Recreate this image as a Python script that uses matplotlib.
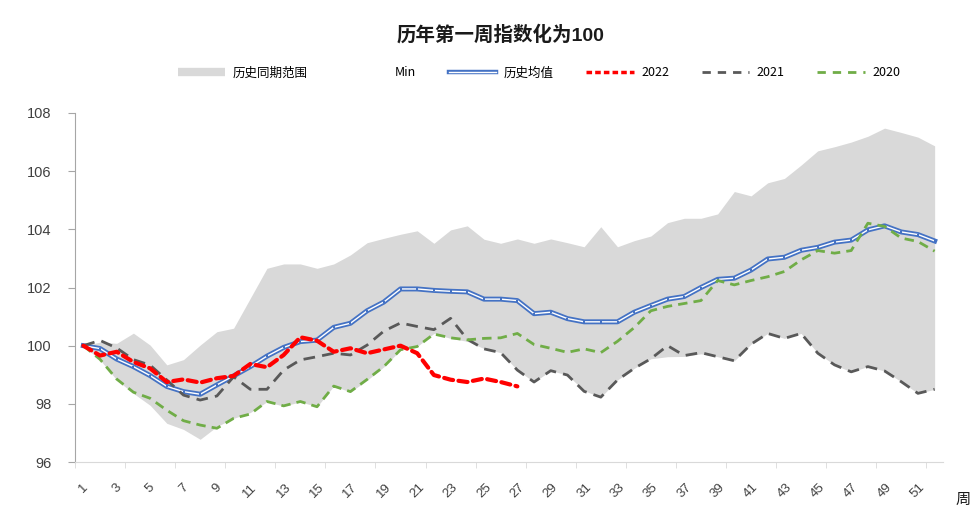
import matplotlib
matplotlib.use("Agg")
import matplotlib.pyplot as plt
import matplotlib.patheffects as pe
from matplotlib.lines import Line2D
import numpy as np

plt.rcParams['font.family'] = ['Liberation Sans', 'Noto Sans CJK SC', 'DejaVu Sans']

weeks = list(range(1, 53))

hist_mean = [100.0, 99.9, 99.54, 99.28, 98.97, 98.6, 98.42, 98.33, 98.65, 98.96,
             99.28, 99.64, 99.94, 100.14, 100.19, 100.63, 100.77, 101.2, 101.5, 101.95,
             101.95, 101.9, 101.87, 101.85, 101.6, 101.6, 101.55, 101.1, 101.15, 100.93,
             100.82, 100.82, 100.82, 101.15, 101.38, 101.6, 101.69, 102.0, 102.28, 102.32,
             102.6, 102.98, 103.04, 103.28, 103.38, 103.56, 103.63, 103.98, 104.12, 103.91,
             103.82, 103.6]

hist_max = [100.0, 100.12, 100.08, 100.43, 100.02, 99.34, 99.52, 100.02, 100.48, 100.6,
            101.63, 102.66, 102.81, 102.81, 102.66, 102.81, 103.12, 103.54, 103.69, 103.83,
            103.95, 103.52, 103.98, 104.12, 103.66, 103.52, 103.67, 103.52, 103.67, 103.54,
            103.4, 104.09, 103.4, 103.61, 103.77, 104.23, 104.38, 104.38, 104.53, 105.3,
            105.15, 105.6, 105.75, 106.21, 106.7, 106.84, 107.0, 107.2, 107.48, 107.33,
            107.17, 106.87]

hist_min = [100.0, 99.51, 98.82, 98.36, 97.95, 97.33, 97.12, 96.78, 97.22, 97.5,
            97.7, 98.07, 97.92, 98.07, 97.9, 98.61, 98.41, 98.81, 99.27, 99.85,
            99.97, 100.42, 100.25, 100.15, 99.9, 99.76, 99.16, 98.75, 99.14, 98.99,
            98.45, 98.23, 98.82, 99.22, 99.55, 99.62, 99.63, 99.72, 99.62, 99.48,
            100.05, 100.42, 100.25, 100.42, 99.74, 99.34, 99.1, 99.28, 99.13, 98.76,
            98.36, 98.5]

y2022 = [100.0, 99.66, 99.79, 99.44, 99.22, 98.75, 98.84, 98.73, 98.88, 98.96,
         99.37, 99.26, 99.68, 100.29, 100.17, 99.79, 99.91, 99.74, 99.87, 100.0,
         99.74, 98.99, 98.83, 98.75, 98.87, 98.75, 98.6]

y2021 = [100.0, 100.18, 99.92, 99.52, 99.33, 98.82, 98.3, 98.13, 98.27, 98.93,
         98.5, 98.5, 99.16, 99.51, 99.62, 99.74, 99.68, 100.02, 100.5, 100.78,
         100.66, 100.55, 100.94, 100.22, 99.89, 99.76, 99.16, 98.75, 99.14, 98.99,
         98.43, 98.23, 98.82, 99.22, 99.55, 100.0, 99.66, 99.76, 99.62, 99.48,
         100.05, 100.42, 100.25, 100.42, 99.74, 99.34, 99.1, 99.28, 99.13, 98.76,
         98.36, 98.5]

y2020 = [100.0, 99.53, 98.85, 98.4, 98.19, 97.78, 97.42, 97.27, 97.16, 97.5,
         97.65, 98.08, 97.93, 98.08, 97.9, 98.61, 98.42, 98.84, 99.28, 99.86,
         99.97, 100.4, 100.27, 100.2, 100.25, 100.27, 100.42, 100.04, 99.91, 99.77,
         99.89, 99.76, 100.15, 100.62, 101.2, 101.35, 101.45, 101.55, 102.24, 102.09,
         102.24, 102.37, 102.55, 102.95, 103.27, 103.18, 103.27, 104.21, 104.1, 103.7,
         103.58, 103.25]

tick_labels = [str(w) for w in weeks[::2]]

BLUE = '#4472C4'
RED = '#FF0000'
DGRAY = '#595959'
GREEN = '#70AD47'
BAND = '#D9D9D9'

fig = plt.figure(figsize=(9.71, 5.29), dpi=100)
ax = fig.add_axes([75/971, 1-462/529, (943-75)/971, (462-113)/529])

ax.fill_between(weeks, hist_min, hist_max, color=BAND, linewidth=0, zorder=1)

ax.plot(weeks, hist_mean, color='white', lw=1.0, zorder=3,
        path_effects=[pe.Stroke(linewidth=3.6, foreground=BLUE), pe.Normal()])
ax.plot(weeks, hist_mean, ls='none', marker='s', markersize=1.6,
        markerfacecolor=BLUE, markeredgecolor=BLUE, markeredgewidth=0, zorder=3)
ax.plot(weeks[:len(y2022)], y2022, color=RED, lw=3.0, dashes=(2.2, 1.3),
        dash_capstyle='round', zorder=5)
ax.plot(weeks, y2021, color=DGRAY, lw=2.0, dashes=(4.2, 2.6), zorder=4)
ax.plot(weeks, y2020, color=GREEN, lw=2.0, dashes=(3.4, 2.2), zorder=4)

ax.set_xlim(0.5, 52.5)
ax.set_ylim(96, 108)
ax.set_yticks(np.arange(96, 109, 2))
ax.tick_params(axis='y', length=5, color='#A6A6A6', pad=12, labelsize=10.5, labelcolor='#404040')

ax.set_xticks(weeks[::2])
ax.set_xticklabels(tick_labels, rotation=45, ha='center', va='top', fontsize=9.5, color='#404040')
ax.tick_params(axis='x', which='major', length=0, pad=14)
ax.set_xticks(np.arange(0.5, 53, 3), minor=True)
ax.tick_params(axis='x', which='minor', length=4, color='#D9D9D9')

for s in ['top', 'right']:
    ax.spines[s].set_visible(False)
ax.spines['left'].set_color('#A6A6A6')
ax.spines['bottom'].set_color('#D9D9D9')

fig.text(0.515, 1-35/529, '历年第一周指数化为100', ha='center', va='center',
         fontsize=14, fontweight='bold', color='#1a1a1a')
fig.text(963/971, 1-500/529, '周', ha='center', va='center', fontsize=11, color='#1a1a1a')

h_band = Line2D([], [], color=BAND, lw=6, solid_capstyle='butt')
h_min = Line2D([], [], color='none', lw=0)
h_mean = Line2D([], [], color='white', lw=1.0,
                path_effects=[pe.Stroke(linewidth=3.2, foreground=BLUE), pe.Normal()])
h22 = Line2D([], [], color=RED, lw=2.5, dashes=(1.6, 0.9))
h21 = Line2D([], [], color=DGRAY, lw=2.0, dashes=(3, 2.5))
h20 = Line2D([], [], color=GREEN, lw=2.0, dashes=(3, 2.5))
fig.legend([h_band, h_min, h_mean, h22, h21, h20],
           ['历史同期范围', 'Min', '历史均值', '2022', '2021', '2020'],
           loc='center', bbox_to_anchor=(0.555, 1-73/529), ncol=6, frameon=False,
           prop={'family': ['Noto Sans CJK SC', 'DejaVu Sans'], 'size': 9},
           handlelength=3.8, columnspacing=2.6, handletextpad=0.6)

fig.savefig('out.png', dpi=100)
